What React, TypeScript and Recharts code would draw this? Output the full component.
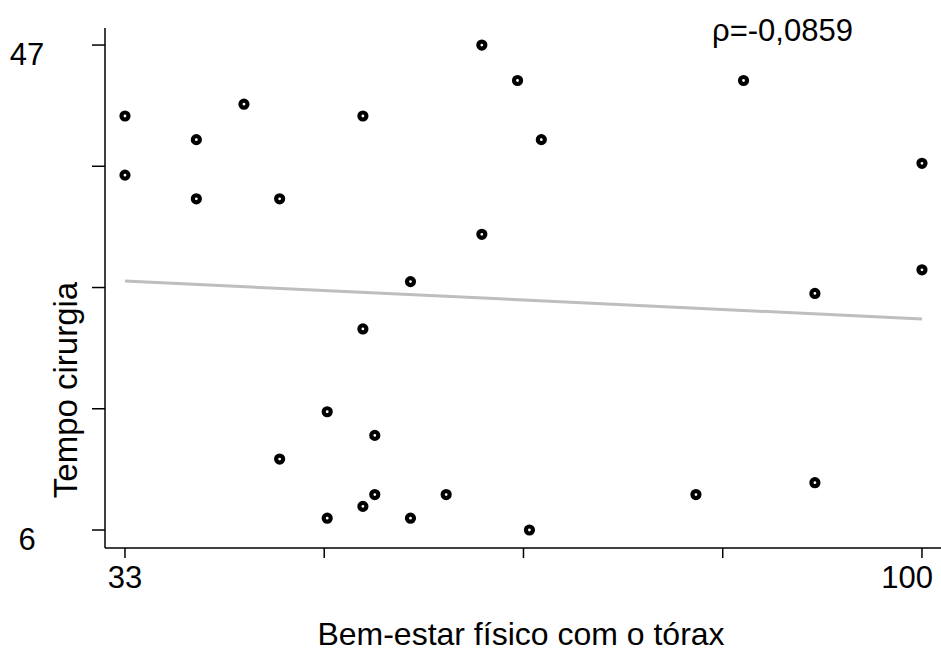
import { ScatterChart, Scatter, XAxis, YAxis, Label } from 'recharts'

// Bem-estar físico com o tórax (x) vs Tempo cirurgia (y)
const wellBeing = [33, 33, 39, 39, 43, 46, 46, 50, 50, 53, 53, 53, 54, 54, 57, 57, 60, 63, 63, 66, 67, 68, 81, 85, 91, 91, 100, 100]
const surgeryTime = [41, 36, 39, 34, 42, 34, 12, 16, 7, 41, 23, 8, 14, 9, 27, 7, 9, 47, 31, 44, 6, 39, 9, 44, 26, 10, 37, 28]

// fitted line at both ends
const fitX = [33, 100]
const fitY = [27.05, 23.84]

const xTicks = [33, 49.75, 66.5, 83.25, 100]
const yTicks = [6, 16.25, 26.5, 36.75, 47]
const xTickLabels = ['33', '', '', '', '100']
const yTickLabels = ['6', '', '', '', '47']

const rhoText = 'ρ=-0,0859'

const points = wellBeing.map((x, i) => ({ x, y: surgeryTime[i] }))
const fitLine = fitX.map((x, i) => ({ x, y: fitY[i] }))

const FONT = '"Liberation Sans", Arial, sans-serif'

function XTick(props: any) {
  const i = xTicks.indexOf(props.payload.value)
  const label = xTickLabels[i]
  if (!label) return <g />
  const last = i === xTicks.length - 1
  return (
    <text
      x={last ? props.x + 11 : props.x}
      y={props.y + 30}
      textAnchor={last ? 'end' : 'middle'}
      fontSize={31}
      fontFamily={FONT}
      fill="#000"
    >
      {label}
    </text>
  )
}

function YTick(props: any) {
  const i = yTicks.indexOf(props.payload.value)
  const label = yTickLabels[i]
  if (!label) return <g />
  return (
    <text x={27} y={props.y + 20} textAnchor="middle" fontSize={31} fontFamily={FONT} fill="#000">
      {label}
    </text>
  )
}

function Dot(props: any) {
  return <circle cx={props.cx} cy={props.cy} r={3.5} fill="#fff" stroke="#000" strokeWidth={4.2} />
}

export default function App() {
  return (
    <div style={{ position: 'absolute', left: 0, top: 0, background: '#fff' }}>
      <ScatterChart width={941} height={652} margin={{ top: 28, right: 0, bottom: 0, left: 0 }}>
        <XAxis
          type="number"
          dataKey="x"
          domain={[31.32, 101.6]}
          ticks={xTicks}
          tickSize={10}
          tickMargin={0}
          height={104}
          allowDataOverflow
          axisLine={{ stroke: '#000', strokeWidth: 1.5 }}
          tickLine={{ stroke: '#000', strokeWidth: 1.5 }}
          tick={XTick}
        >
          <Label
            content={() => (
              <text x={521} y={645} textAnchor="middle" fontSize={32} fontFamily={FONT} fill="#000">
                Bem-estar físico com o tórax
              </text>
            )}
          />
        </XAxis>
        <YAxis
          type="number"
          dataKey="y"
          domain={[4.48, 48.44]}
          ticks={yTicks}
          tickSize={13}
          tickMargin={0}
          width={105}
          allowDataOverflow
          axisLine={{ stroke: '#000', strokeWidth: 1.5 }}
          tickLine={{ stroke: '#000', strokeWidth: 1.5 }}
          tick={YTick}
        >
          <Label
            content={() => (
              <text
                x={77}
                y={390}
                transform="rotate(-90 77 390)"
                textAnchor="middle"
                fontSize={33}
                fontFamily={FONT}
                fill="#000"
              >
                Tempo cirurgia
              </text>
            )}
          />
        </YAxis>
        <Scatter
          data={fitLine}
          line={{ stroke: '#BEBEBE', strokeWidth: 3 }}
          shape={() => <g />}
          isAnimationActive={false}
        />
        <Scatter data={points} shape={Dot} isAnimationActive={false} />
        <text x={712} y={41} fontSize={31} fontFamily={FONT} fill="#000">
          {rhoText}
        </text>
      </ScatterChart>
    </div>
  )
}
